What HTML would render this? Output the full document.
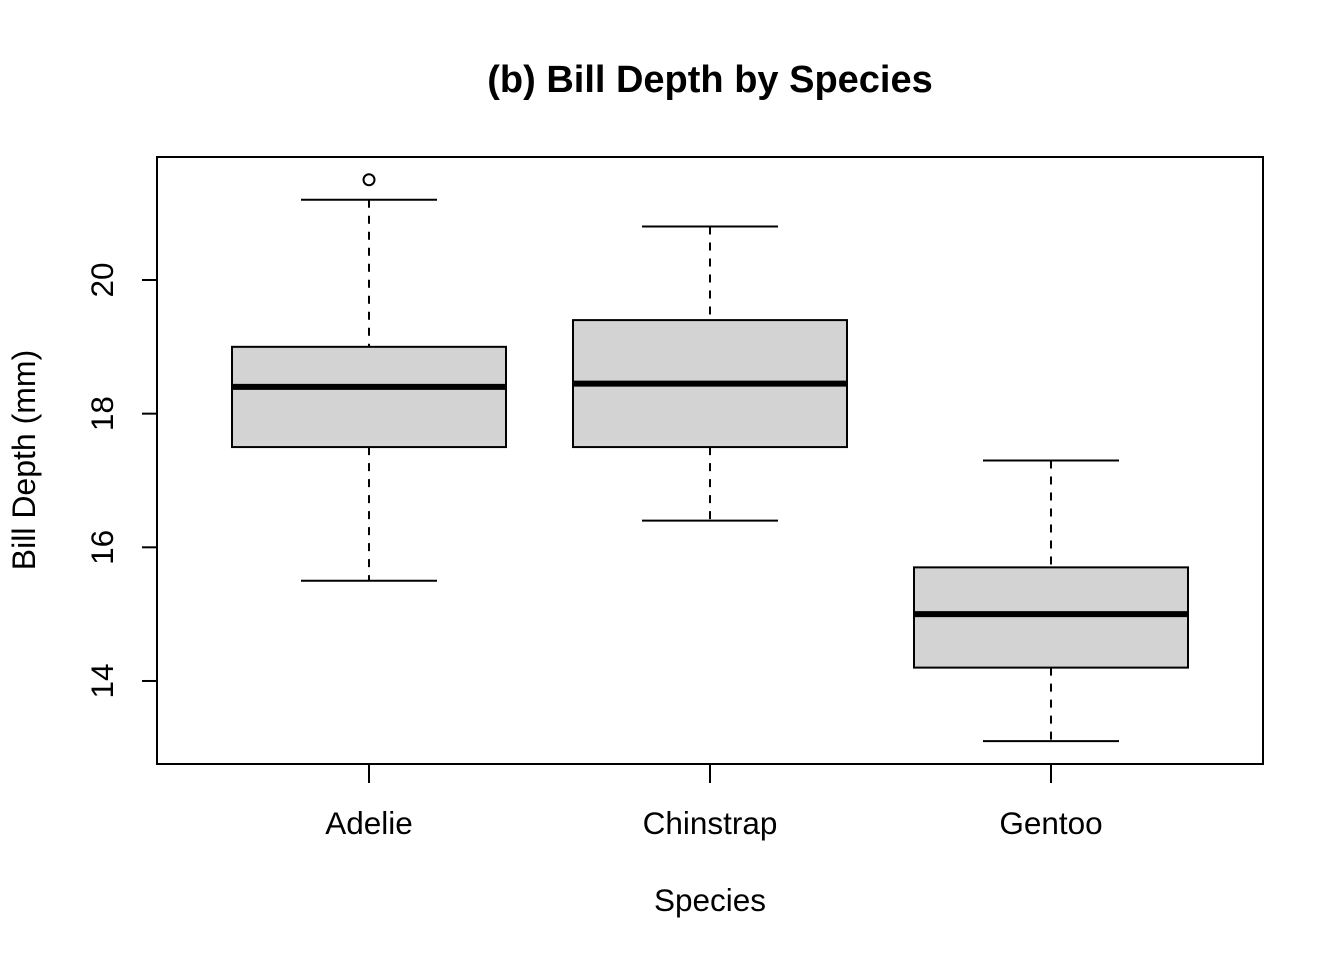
<!DOCTYPE html>
<html><head><meta charset="utf-8"><style>
html,body{margin:0;padding:0;background:#fff;}
svg{display:block;font-family:"Liberation Sans",Arial,sans-serif;}
</style></head><body>
<svg id="chart" width="1344" height="960" viewBox="0 0 1344 960">
<text x="710" y="92" text-anchor="middle" font-size="38" font-weight="bold">(b) Bill Depth by Species</text>
<rect x="157" y="157" width="1106" height="607" fill="none" stroke="#000" stroke-width="2"/>
<text x="710" y="911" text-anchor="middle" font-size="31.5">Species</text>
<text transform="translate(35,460) rotate(-90)" text-anchor="middle" font-size="32">Bill Depth (mm)</text>
<g id="marks"></g>
</svg>
<script>
const categories = ["Adelie","Chinstrap","Gentoo"];
const whiskerLow = [15.5, 16.4, 13.1];
const q1 = [17.5, 17.5, 14.2];
const medians = [18.4, 18.45, 15.0];
const q3 = [19.0, 19.4, 15.7];
const whiskerHigh = [21.2, 20.8, 17.3];
const outlierCat = [0];
const outlierVal = [21.5];
const yTicks = [14, 16, 18, 20];

const NS = "http://www.w3.org/2000/svg";
const svg = document.getElementById("chart");
function y(v){ return 280 + (20 - v) * 66.83; }
function x(i){ return 369 + i * 341; }
function mk(tag, attrs){ const e = document.createElementNS(NS, tag); for (const k in attrs) e.setAttribute(k, attrs[k]); svg.appendChild(e); return e; }

yTicks.forEach(t => {
  const l = mk("line", {x1:157, x2:142, y1:y(t), y2:y(t), stroke:"#000", "stroke-width":2});
  
  
  const tx = mk("text", {transform:`translate(113,${y(t)}) rotate(-90)`, "text-anchor":"middle", "font-size":31.5});
  tx.textContent = t;
  
  
});

categories.forEach((c, i) => {
  const cx = x(i);
  const tk = mk("line", {x1:cx, x2:cx, y1:764, y2:783, stroke:"#000", "stroke-width":2});
  
  
  const lb = mk("text", {x:cx, y:834, "text-anchor":"middle", "font-size":31.5});
  lb.textContent = c;
  
  

  const w1 = mk("line", {x1:cx, x2:cx, y1:y(whiskerHigh[i]), y2:y(q3[i]), stroke:"#000", "stroke-width":2, "stroke-dasharray":"8,8"});
  
  
  const w2 = mk("line", {x1:cx, x2:cx, y1:y(q1[i]), y2:y(whiskerLow[i]), stroke:"#000", "stroke-width":2, "stroke-dasharray":"8,8"});
  
  
  const c1 = mk("line", {x1:cx-68, x2:cx+68, y1:y(whiskerHigh[i]), y2:y(whiskerHigh[i]), stroke:"#000", "stroke-width":2});
  
  
  const c2 = mk("line", {x1:cx-68, x2:cx+68, y1:y(whiskerLow[i]), y2:y(whiskerLow[i]), stroke:"#000", "stroke-width":2});
  
  
  const b = mk("rect", {x:cx-137, y:y(q3[i]), width:274, height:y(q1[i])-y(q3[i]), fill:"#d3d3d3", stroke:"#000", "stroke-width":2});
  
  
  const m = mk("line", {x1:cx-137, x2:cx+137, y1:y(medians[i]), y2:y(medians[i]), stroke:"#000", "stroke-width":6});
  
  
});

outlierCat.forEach((ci, k) => {
  const o = mk("circle", {cx:x(ci), cy:y(outlierVal[k]), r:5.5, fill:"none", stroke:"#000", "stroke-width":2});
  
  
});
</script>
</body></html>
